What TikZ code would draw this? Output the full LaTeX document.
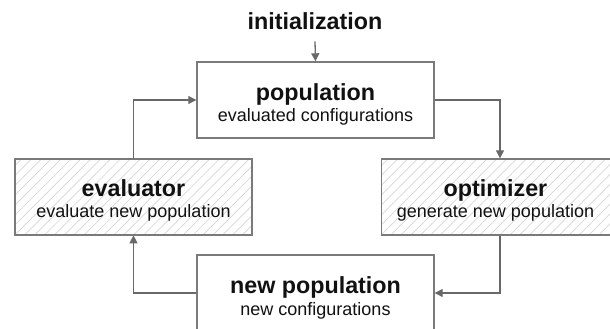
\documentclass[tikz,border=0pt]{standalone}
\usepackage{fontspec}
\setmainfont{Liberation Sans}
\usetikzlibrary{arrows.meta,patterns.meta}
\definecolor{linegray}{HTML}{7A7A7A}
\definecolor{arrgray}{HTML}{686868}
\definecolor{hatchgray}{HTML}{D6D6D6}
\definecolor{textblack}{HTML}{111111}
\begin{document}
\begin{tikzpicture}[x=1pt,y=-1pt,
  box/.style={draw=linegray,line width=1.4pt,rectangle,minimum width=237pt,minimum height=76pt,inner sep=0pt,fill=white},
  hatchbox/.style={draw=linegray,line width=1.4pt,rectangle,minimum width=237pt,minimum height=76pt,inner sep=0pt,preaction={fill=white},pattern={Lines[angle=45,distance=7pt,line width=0.7pt]},pattern color=hatchgray},
  ttl/.style={anchor=base,inner sep=0pt,text=textblack,font=\fontsize{23.3}{28}\selectfont\bfseries},
  sub/.style={anchor=base,inner sep=0pt,text=textblack,font=\fontsize{18}{22}\selectfont},
  arr/.style={draw=arrgray,line width=1.3pt,-{Triangle[length=8pt,width=8pt]}}
]
\useasboundingbox (0,0) rectangle (610,329);
\clip (0,0) rectangle (610,329);
\node[box] (pop) at (315.5,100) {};
\node[hatchbox] (eval) at (133.5,197) {};
\node[hatchbox] (opt) at (500,197) {};
\node[box] (np) at (315.5,293) {};
\node[anchor=base,inner xsep=0pt,inner ysep=11pt,text=textblack,font=\fontsize{23.3}{28}\selectfont\bfseries] (init) at (315,30) {initialization};
\node[ttl] (popT) at (315.5,100) {population};
\node[sub] (popS) at (315.5,121) {evaluated configurations};
\node[ttl] (evalT) at (133.5,196) {evaluator};
\node[sub] (evalS) at (133.5,217) {evaluate new population};
\node[ttl] (optT) at (495.5,196) {optimizer};
\node[sub] (optS) at (495.5,217) {generate new population};
\node[ttl] (npT) at (315.5,293) {new population};
\node[sub] (npS) at (315.5,315) {new configurations};
\draw[arr] (init.south) -- (pop.north);
\draw[arr] (pop.east) -| (opt.north);
\draw[arr] (opt.south) |- (np.east);
\draw[arr] (np.west) -| (eval.south);
\draw[arr] (eval.north) |- (pop.west);
\end{tikzpicture}
\end{document}
